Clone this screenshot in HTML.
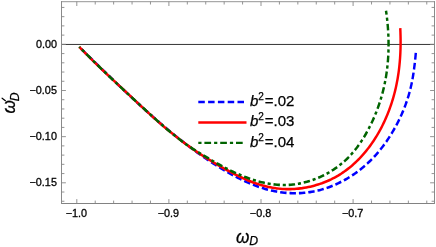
<!DOCTYPE html>
<html><head><meta charset="utf-8"><style>
html,body{margin:0;padding:0;background:#fff;}
svg{display:block;font-family:"Liberation Sans",sans-serif;}
</style></head><body>
<svg width="436" height="247" viewBox="0 0 436 247">
<defs><filter id="gr" x="-5%" y="-5%" width="110%" height="110%" color-interpolation-filters="sRGB"><feColorMatrix type="saturate" values="0"/></filter></defs>
<rect width="436" height="247" fill="#fff"/>
<line x1="61.5" y1="44.45" x2="434.5" y2="44.45" stroke="#000" stroke-width="0.8"/>
<g fill="none" stroke-width="2.45" stroke-linecap="butt" stroke-linejoin="round" transform="scale(1,1.05)">
<path d="M415.82,50.46 L415.64,52.32 L415.45,54.19 L415.25,56.05 L415.04,57.92 L414.82,59.79 L414.60,61.65 L414.36,63.51 L414.11,65.38 L413.84,67.24 L413.56,69.09 L413.27,70.95 L412.95,72.80 L412.62,74.64 L412.27,76.49 L411.89,78.32 L411.50,80.15 L411.07,81.98 L410.63,83.80 L410.16,85.61 L409.66,87.42 L409.14,89.22 L408.59,91.01 L408.02,92.79 L407.43,94.57 L406.81,96.34 L406.16,98.10 L405.50,99.86 L404.80,101.61 L404.09,103.35 L403.35,105.08 L402.59,106.80 L401.81,108.51 L401.01,110.22 L400.18,111.92 L399.34,113.61 L398.47,115.29 L397.58,116.96 L396.67,118.63 L395.75,120.28 L394.80,121.93 L393.83,123.56 L392.84,125.18 L391.83,126.80 L390.79,128.40 L389.74,129.99 L388.67,131.56 L387.58,133.12 L386.46,134.67 L385.33,136.20 L384.17,137.72 L383.00,139.23 L381.80,140.71 L380.58,142.18 L379.34,143.64 L378.08,145.07 L376.80,146.49 L375.50,147.89 L374.17,149.27 L372.83,150.63 L371.46,151.97 L370.07,153.28 L368.66,154.58 L367.23,155.85 L365.78,157.11 L364.30,158.34 L362.81,159.54 L361.29,160.72 L359.75,161.88 L358.19,163.01 L356.61,164.12 L355.01,165.21 L353.39,166.27 L351.76,167.30 L350.10,168.31 L348.42,169.29 L346.73,170.25 L345.02,171.19 L343.29,172.09 L341.55,172.97 L339.79,173.82 L338.02,174.64 L336.23,175.43 L334.42,176.19 L332.61,176.92 L330.78,177.61 L328.93,178.27 L327.08,178.90 L325.21,179.50 L323.33,180.06 L321.44,180.59 L319.54,181.08 L317.63,181.53 L315.70,181.94 L313.77,182.32 L311.84,182.66 L309.89,182.96 L307.94,183.22 L305.99,183.44 L304.02,183.63 L302.06,183.78 L300.09,183.90 L298.12,183.97 L296.15,184.02 L294.18,184.02 L292.21,183.99 L290.25,183.92 L288.28,183.82 L286.32,183.68 L284.36,183.51 L282.41,183.30 L280.46,183.05 L278.52,182.77 L276.59,182.46 L274.67,182.11 L272.75,181.73 L270.85,181.32 L268.95,180.88 L267.06,180.40 L265.18,179.90 L263.30,179.36 L261.44,178.80 L259.58,178.21 L257.73,177.60 L255.89,176.96 L254.06,176.29 L252.23,175.60 L250.41,174.89 L248.60,174.15 L246.80,173.40 L245.01,172.62 L243.22,171.83 L241.44,171.01 L239.67,170.18 L237.91,169.33 L236.15,168.46 L234.40,167.58 L232.66,166.68 L230.93,165.77 L229.20,164.85 L227.48,163.91 L225.77,162.97 L224.07,162.01 L222.37,161.05 L220.68,160.07 L219.00,159.09 L217.32,158.10 L215.66,157.10 L213.99,156.09 L212.34,155.07 L210.69,154.05 L209.05,153.02 L207.42,151.98 L205.79,150.93 L204.16,149.87 L202.55,148.81 L200.94,147.74 L199.33,146.67 L197.73,145.58 L196.14,144.49 L194.55,143.39 L192.97,142.29 L191.39,141.18 L189.82,140.06 L188.26,138.94 L186.70,137.81 L185.14,136.68 L183.59,135.53 L182.04,134.39 L180.50,133.24 L178.96,132.08 L177.43,130.91 L175.90,129.74 L174.38,128.57 L172.86,127.39 L171.34,126.21 L169.83,125.02 L168.32,123.82 L166.81,122.62 L165.31,121.42 L163.82,120.21 L162.32,119.00 L160.83,117.79 L159.34,116.57 L157.86,115.34 L156.38,114.12 L154.90,112.88 L153.42,111.65 L151.95,110.41 L150.48,109.17 L149.01,107.92 L147.54,106.68 L146.08,105.42 L144.62,104.17 L143.16,102.91 L141.70,101.65 L140.25,100.39 L138.80,99.13 L137.35,97.86 L135.90,96.59 L134.45,95.31 L133.01,94.04 L131.57,92.76 L130.13,91.48 L128.69,90.20 L127.26,88.92 L125.82,87.63 L124.39,86.34 L122.96,85.05 L121.53,83.76 L120.10,82.47 L118.68,81.18 L117.25,79.88 L115.83,78.59 L114.41,77.29 L112.99,75.99 L111.57,74.69 L110.15,73.39 L108.74,72.09 L107.32,70.78 L105.91,69.48 L104.49,68.18 L103.08,66.87 L101.67,65.57 L100.26,64.26 L98.85,62.96 L97.44,61.65 L96.04,60.35 L94.63,59.04 L93.23,57.73 L91.82,56.43 L90.42,55.12 L89.01,53.82 L87.61,52.51 L86.21,51.21 L84.80,49.90 L83.40,48.60 L82.00,47.30 L80.60,46.00 L79.20,44.70" stroke="#0000ff" stroke-dasharray="6.4 3.0"/>
<path d="M79.26,44.61 L80.65,45.99 L82.03,47.36 L83.43,48.73 L84.82,50.09 L86.23,51.45 L87.64,52.80 L89.05,54.15 L90.46,55.50 L91.88,56.84 L93.31,58.17 L94.74,59.51 L96.17,60.83 L97.60,62.16 L99.04,63.48 L100.48,64.80 L101.93,66.12 L103.38,67.43 L104.83,68.74 L106.28,70.05 L107.73,71.36 L109.19,72.66 L110.64,73.97 L112.10,75.27 L113.56,76.57 L115.02,77.87 L116.49,79.17 L117.95,80.47 L119.41,81.77 L120.88,83.06 L122.34,84.36 L123.81,85.66 L125.27,86.96 L126.73,88.26 L128.20,89.56 L129.66,90.86 L131.12,92.17 L132.58,93.47 L134.04,94.77 L135.50,96.08 L136.96,97.38 L138.43,98.69 L139.89,99.99 L141.35,101.29 L142.82,102.59 L144.29,103.89 L145.76,105.18 L147.23,106.48 L148.71,107.76 L150.19,109.05 L151.67,110.33 L153.16,111.61 L154.65,112.88 L156.14,114.15 L157.65,115.41 L159.15,116.66 L160.66,117.91 L162.18,119.16 L163.70,120.40 L165.22,121.63 L166.75,122.85 L168.29,124.07 L169.83,125.28 L171.37,126.49 L172.92,127.69 L174.48,128.88 L176.05,130.06 L177.61,131.23 L179.19,132.40 L180.77,133.56 L182.36,134.70 L183.95,135.84 L185.55,136.98 L187.16,138.10 L188.77,139.21 L190.39,140.31 L192.02,141.40 L193.65,142.49 L195.29,143.56 L196.93,144.62 L198.59,145.68 L200.25,146.72 L201.91,147.76 L203.59,148.79 L205.27,149.81 L206.96,150.82 L208.65,151.82 L210.35,152.82 L212.06,153.81 L213.77,154.79 L215.49,155.76 L217.22,156.73 L218.96,157.69 L220.70,158.65 L222.44,159.59 L224.20,160.53 L225.96,161.47 L227.73,162.39 L229.50,163.30 L231.29,164.21 L233.08,165.10 L234.87,165.98 L236.68,166.84 L238.49,167.68 L240.31,168.51 L242.13,169.32 L243.97,170.11 L245.81,170.88 L247.65,171.63 L249.51,172.36 L251.37,173.06 L253.25,173.73 L255.13,174.38 L257.01,175.00 L258.91,175.59 L260.81,176.15 L262.72,176.67 L264.64,177.17 L266.57,177.63 L268.50,178.05 L270.45,178.44 L272.40,178.79 L274.36,179.10 L276.33,179.38 L278.31,179.61 L280.29,179.79 L282.29,179.94 L284.29,180.04 L286.29,180.11 L288.30,180.13 L290.31,180.11 L292.32,180.05 L294.33,179.96 L296.34,179.82 L298.34,179.64 L300.35,179.42 L302.35,179.17 L304.35,178.87 L306.33,178.54 L308.32,178.17 L310.29,177.76 L312.25,177.31 L314.20,176.82 L316.14,176.30 L318.07,175.74 L319.98,175.14 L321.88,174.51 L323.76,173.84 L325.62,173.14 L327.47,172.40 L329.29,171.62 L331.10,170.81 L332.88,169.96 L334.64,169.08 L336.37,168.17 L338.09,167.22 L339.77,166.24 L341.44,165.23 L343.08,164.18 L344.70,163.11 L346.30,162.00 L347.87,160.86 L349.42,159.70 L350.95,158.51 L352.45,157.28 L353.93,156.04 L355.39,154.76 L356.82,153.46 L358.23,152.13 L359.62,150.78 L360.99,149.41 L362.33,148.01 L363.64,146.59 L364.94,145.14 L366.21,143.68 L367.45,142.19 L368.68,140.69 L369.88,139.16 L371.05,137.61 L372.21,136.05 L373.33,134.47 L374.44,132.87 L375.52,131.25 L376.58,129.62 L377.62,127.97 L378.63,126.31 L379.62,124.63 L380.58,122.94 L381.52,121.23 L382.44,119.52 L383.33,117.79 L384.20,116.05 L385.05,114.30 L385.87,112.54 L386.67,110.77 L387.45,108.99 L388.20,107.21 L388.93,105.42 L389.63,103.62 L390.31,101.81 L390.97,100.00 L391.60,98.18 L392.21,96.36 L392.80,94.53 L393.36,92.71 L393.90,90.88 L394.41,89.04 L394.90,87.20 L395.37,85.36 L395.82,83.52 L396.25,81.67 L396.65,79.82 L397.03,77.96 L397.39,76.11 L397.73,74.25 L398.05,72.38 L398.35,70.52 L398.63,68.65 L398.89,66.77 L399.13,64.90 L399.35,63.02 L399.55,61.14 L399.74,59.25 L399.90,57.36 L400.05,55.47 L400.17,53.58 L400.29,51.68 L400.38,49.78 L400.46,47.88 L400.52,45.98 L400.56,44.07 L400.59,42.16 L400.60,40.25 L400.60,38.33 L400.58,36.41 L400.54,34.49 L400.49,32.57 L400.43,30.64 L400.35,28.71 L400.26,26.78" stroke="#ff0000"/>
<path d="M386.01,10.26 L386.30,12.14 L386.57,14.02 L386.82,15.91 L387.05,17.81 L387.27,19.70 L387.48,21.60 L387.66,23.50 L387.83,25.41 L387.98,27.32 L388.11,29.23 L388.23,31.14 L388.33,33.05 L388.41,34.97 L388.47,36.88 L388.52,38.80 L388.54,40.72 L388.55,42.63 L388.54,44.55 L388.51,46.47 L388.46,48.39 L388.39,50.31 L388.30,52.22 L388.19,54.14 L388.06,56.05 L387.91,57.96 L387.74,59.87 L387.55,61.78 L387.34,63.69 L387.11,65.59 L386.85,67.49 L386.58,69.39 L386.28,71.29 L385.97,73.18 L385.63,75.07 L385.26,76.95 L384.88,78.83 L384.47,80.70 L384.05,82.57 L383.59,84.44 L383.12,86.30 L382.62,88.15 L382.10,90.00 L381.56,91.84 L380.99,93.68 L380.41,95.51 L379.80,97.33 L379.17,99.15 L378.51,100.96 L377.84,102.76 L377.14,104.56 L376.42,106.35 L375.68,108.13 L374.91,109.90 L374.13,111.67 L373.33,113.42 L372.50,115.17 L371.65,116.91 L370.78,118.64 L369.89,120.36 L368.98,122.07 L368.05,123.77 L367.09,125.45 L366.11,127.13 L365.11,128.79 L364.08,130.43 L363.03,132.06 L361.95,133.68 L360.84,135.27 L359.71,136.85 L358.55,138.41 L357.37,139.94 L356.16,141.46 L354.91,142.95 L353.64,144.42 L352.34,145.87 L351.01,147.29 L349.65,148.69 L348.25,150.05 L346.83,151.40 L345.37,152.71 L343.88,153.99 L342.35,155.25 L340.80,156.47 L339.22,157.66 L337.60,158.82 L335.96,159.95 L334.30,161.04 L332.60,162.11 L330.88,163.13 L329.14,164.13 L327.38,165.08 L325.59,166.01 L323.79,166.89 L321.96,167.74 L320.12,168.56 L318.26,169.33 L316.38,170.07 L314.49,170.76 L312.59,171.42 L310.67,172.04 L308.74,172.62 L306.80,173.16 L304.85,173.65 L302.89,174.10 L300.92,174.51 L298.95,174.88 L296.97,175.20 L294.99,175.48 L293.00,175.71 L291.01,175.90 L289.02,176.04 L287.03,176.14 L285.05,176.19 L283.06,176.19 L281.07,176.14 L279.09,176.06 L277.11,175.93 L275.13,175.75 L273.16,175.54 L271.18,175.29 L269.22,175.00 L267.25,174.67 L265.29,174.30 L263.34,173.90 L261.38,173.47 L259.44,173.00 L257.50,172.50 L255.56,171.97 L253.63,171.41 L251.71,170.81 L249.80,170.20 L247.89,169.55 L245.99,168.88 L244.09,168.18 L242.21,167.46 L240.33,166.72 L238.46,165.95 L236.60,165.17 L234.75,164.36 L232.91,163.54 L231.08,162.70 L229.26,161.84 L227.45,160.97 L225.65,160.09 L223.86,159.19 L222.08,158.28 L220.31,157.36 L218.56,156.43 L216.81,155.49 L215.07,154.54 L213.34,153.58 L211.62,152.62 L209.89,151.66 L208.17,150.69 L206.46,149.71 L204.74,148.74 L203.02,147.76 L201.30,146.77 L199.59,145.78 L197.89,144.79 L196.18,143.78 L194.49,142.76 L192.81,141.73 L191.13,140.68 L189.47,139.62 L187.82,138.54 L186.18,137.44 L184.55,136.33 L182.94,135.20 L181.33,134.06 L179.73,132.90 L178.15,131.74 L176.57,130.56 L175.00,129.36 L173.44,128.16 L171.88,126.95 L170.33,125.73 L168.79,124.49 L167.26,123.25 L165.73,122.01 L164.21,120.75 L162.69,119.49 L161.17,118.23 L159.66,116.96 L158.16,115.68 L156.65,114.41 L155.15,113.12 L153.65,111.84 L152.16,110.56 L150.66,109.27 L149.17,107.99 L147.68,106.70 L146.18,105.41 L144.69,104.12 L143.21,102.83 L141.72,101.54 L140.23,100.25 L138.75,98.95 L137.27,97.66 L135.79,96.36 L134.31,95.07 L132.83,93.77 L131.35,92.47 L129.88,91.17 L128.40,89.87 L126.93,88.56 L125.46,87.26 L123.99,85.95 L122.52,84.64 L121.06,83.33 L119.59,82.02 L118.13,80.71 L116.67,79.40 L115.21,78.08 L113.75,76.77 L112.29,75.45 L110.84,74.13 L109.38,72.81 L107.93,71.48 L106.48,70.16 L105.03,68.83 L103.58,67.50 L102.14,66.17 L100.69,64.84 L99.25,63.51 L97.81,62.17 L96.37,60.84 L94.93,59.50 L93.49,58.16 L92.06,56.82 L90.63,55.47 L89.19,54.12 L87.76,52.78 L86.34,51.42 L84.91,50.07 L83.49,48.72 L82.06,47.36 L80.64,46.00 L79.22,44.64" stroke="#006400" stroke-dasharray="6.4 2.85 3.1 2.85" stroke-dashoffset="2.73"/>
</g>
<g stroke-linecap="square" stroke-width="1">
<line x1="61.5" y1="1.7000000000000002" x2="434.5" y2="1.7000000000000002" stroke="#969696"/>
<line x1="61.5" y1="203.5" x2="434.5" y2="203.5" stroke="#828282"/>
<line x1="61.5" y1="1.6" x2="61.5" y2="203.5" stroke="#8a8a8a"/>
<line x1="434.5" y1="1.6" x2="434.5" y2="203.5" stroke="#8a8a8a"/>
</g>
<g stroke="#888" stroke-width="0.9"><line x1="76.80" y1="203.5" x2="76.80" y2="199.1"/><line x1="76.80" y1="1.6" x2="76.80" y2="6.0"/><line x1="95.22" y1="203.5" x2="95.22" y2="200.6"/><line x1="95.22" y1="1.6" x2="95.22" y2="4.5"/><line x1="113.64" y1="203.5" x2="113.64" y2="200.6"/><line x1="113.64" y1="1.6" x2="113.64" y2="4.5"/><line x1="132.06" y1="203.5" x2="132.06" y2="200.6"/><line x1="132.06" y1="1.6" x2="132.06" y2="4.5"/><line x1="150.48" y1="203.5" x2="150.48" y2="200.6"/><line x1="150.48" y1="1.6" x2="150.48" y2="4.5"/><line x1="168.90" y1="203.5" x2="168.90" y2="199.1"/><line x1="168.90" y1="1.6" x2="168.90" y2="6.0"/><line x1="187.32" y1="203.5" x2="187.32" y2="200.6"/><line x1="187.32" y1="1.6" x2="187.32" y2="4.5"/><line x1="205.74" y1="203.5" x2="205.74" y2="200.6"/><line x1="205.74" y1="1.6" x2="205.74" y2="4.5"/><line x1="224.16" y1="203.5" x2="224.16" y2="200.6"/><line x1="224.16" y1="1.6" x2="224.16" y2="4.5"/><line x1="242.58" y1="203.5" x2="242.58" y2="200.6"/><line x1="242.58" y1="1.6" x2="242.58" y2="4.5"/><line x1="261.00" y1="203.5" x2="261.00" y2="199.1"/><line x1="261.00" y1="1.6" x2="261.00" y2="6.0"/><line x1="279.42" y1="203.5" x2="279.42" y2="200.6"/><line x1="279.42" y1="1.6" x2="279.42" y2="4.5"/><line x1="297.84" y1="203.5" x2="297.84" y2="200.6"/><line x1="297.84" y1="1.6" x2="297.84" y2="4.5"/><line x1="316.26" y1="203.5" x2="316.26" y2="200.6"/><line x1="316.26" y1="1.6" x2="316.26" y2="4.5"/><line x1="334.68" y1="203.5" x2="334.68" y2="200.6"/><line x1="334.68" y1="1.6" x2="334.68" y2="4.5"/><line x1="353.10" y1="203.5" x2="353.10" y2="199.1"/><line x1="353.10" y1="1.6" x2="353.10" y2="6.0"/><line x1="371.52" y1="203.5" x2="371.52" y2="200.6"/><line x1="371.52" y1="1.6" x2="371.52" y2="4.5"/><line x1="389.94" y1="203.5" x2="389.94" y2="200.6"/><line x1="389.94" y1="1.6" x2="389.94" y2="4.5"/><line x1="408.36" y1="203.5" x2="408.36" y2="200.6"/><line x1="408.36" y1="1.6" x2="408.36" y2="4.5"/><line x1="426.78" y1="203.5" x2="426.78" y2="200.6"/><line x1="426.78" y1="1.6" x2="426.78" y2="4.5"/><line x1="61.5" y1="7.43" x2="64.4" y2="7.43"/><line x1="434.5" y1="7.43" x2="431.6" y2="7.43"/><line x1="61.5" y1="16.66" x2="64.4" y2="16.66"/><line x1="434.5" y1="16.66" x2="431.6" y2="16.66"/><line x1="61.5" y1="25.89" x2="64.4" y2="25.89"/><line x1="434.5" y1="25.89" x2="431.6" y2="25.89"/><line x1="61.5" y1="35.12" x2="64.4" y2="35.12"/><line x1="434.5" y1="35.12" x2="431.6" y2="35.12"/><line x1="61.5" y1="44.35" x2="65.9" y2="44.35"/><line x1="434.5" y1="44.35" x2="430.1" y2="44.35"/><line x1="61.5" y1="53.58" x2="64.4" y2="53.58"/><line x1="434.5" y1="53.58" x2="431.6" y2="53.58"/><line x1="61.5" y1="62.81" x2="64.4" y2="62.81"/><line x1="434.5" y1="62.81" x2="431.6" y2="62.81"/><line x1="61.5" y1="72.04" x2="64.4" y2="72.04"/><line x1="434.5" y1="72.04" x2="431.6" y2="72.04"/><line x1="61.5" y1="81.27" x2="64.4" y2="81.27"/><line x1="434.5" y1="81.27" x2="431.6" y2="81.27"/><line x1="61.5" y1="90.50" x2="65.9" y2="90.50"/><line x1="434.5" y1="90.50" x2="430.1" y2="90.50"/><line x1="61.5" y1="99.73" x2="64.4" y2="99.73"/><line x1="434.5" y1="99.73" x2="431.6" y2="99.73"/><line x1="61.5" y1="108.96" x2="64.4" y2="108.96"/><line x1="434.5" y1="108.96" x2="431.6" y2="108.96"/><line x1="61.5" y1="118.19" x2="64.4" y2="118.19"/><line x1="434.5" y1="118.19" x2="431.6" y2="118.19"/><line x1="61.5" y1="127.42" x2="64.4" y2="127.42"/><line x1="434.5" y1="127.42" x2="431.6" y2="127.42"/><line x1="61.5" y1="136.65" x2="65.9" y2="136.65"/><line x1="434.5" y1="136.65" x2="430.1" y2="136.65"/><line x1="61.5" y1="145.88" x2="64.4" y2="145.88"/><line x1="434.5" y1="145.88" x2="431.6" y2="145.88"/><line x1="61.5" y1="155.11" x2="64.4" y2="155.11"/><line x1="434.5" y1="155.11" x2="431.6" y2="155.11"/><line x1="61.5" y1="164.34" x2="64.4" y2="164.34"/><line x1="434.5" y1="164.34" x2="431.6" y2="164.34"/><line x1="61.5" y1="173.57" x2="64.4" y2="173.57"/><line x1="434.5" y1="173.57" x2="431.6" y2="173.57"/><line x1="61.5" y1="182.80" x2="65.9" y2="182.80"/><line x1="434.5" y1="182.80" x2="430.1" y2="182.80"/><line x1="61.5" y1="192.03" x2="64.4" y2="192.03"/><line x1="434.5" y1="192.03" x2="431.6" y2="192.03"/><line x1="61.5" y1="201.26" x2="64.4" y2="201.26"/><line x1="434.5" y1="201.26" x2="431.6" y2="201.26"/></g>
<g font-size="10.8" fill="#000" stroke="#000" stroke-width="0.3" filter="url(#gr)"><text x="76.30" y="216.6" text-anchor="middle">−1.0</text><text x="168.40" y="216.6" text-anchor="middle">−0.9</text><text x="260.50" y="216.6" text-anchor="middle">−0.8</text><text x="352.60" y="216.6" text-anchor="middle">−0.7</text><text x="56.9" y="47.60" text-anchor="end">0.00</text><text x="56.9" y="93.75" text-anchor="end">−0.05</text><text x="56.9" y="139.90" text-anchor="end">−0.10</text><text x="56.9" y="186.05" text-anchor="end">−0.15</text></g>
<g fill="none" stroke-width="2.3">
<line x1="198.3" y1="102.0" x2="246" y2="102.0" stroke="#0000ff" stroke-dasharray="6.5 3.3"/>
<line x1="198.3" y1="122.5" x2="246.5" y2="122.5" stroke="#ff0000"/>
<line x1="198.3" y1="142.9" x2="245" y2="142.9" stroke="#006400" stroke-dasharray="3.2 2.9 6.7 3.0"/>
</g>
<g font-size="15" fill="#000" stroke="#000" stroke-width="0.25" filter="url(#gr)">
<text x="250" y="105.9"><tspan font-style="italic">b</tspan><tspan font-size="10" dy="-5.9">2</tspan><tspan dy="5.9" dx="0.8">=.02</tspan></text>
<text x="250" y="126.3"><tspan font-style="italic">b</tspan><tspan font-size="10" dy="-5.9">2</tspan><tspan dy="5.9" dx="0.8">=.03</tspan></text>
<text x="250" y="146.8"><tspan font-style="italic">b</tspan><tspan font-size="10" dy="-5.9">2</tspan><tspan dy="5.9" dx="0.8">=.04</tspan></text>
</g>
<g fill="#000" font-style="italic" stroke="#000" stroke-width="0.25" filter="url(#gr)">
<text transform="translate(236.0,242.6) scale(1,1.12)" font-size="17.2">ω</text>
<text x="249.3" y="245.2" font-size="12.2">D</text>
<text transform="translate(14.8,113.5) rotate(-90) scale(1,1.12)" font-size="17.2">ω</text>
<text transform="translate(19.3,101.3) rotate(-90)" font-size="12.2">D</text>
<line x1="5.4" y1="100.7" x2="2.1" y2="98.2" stroke="#000" stroke-width="1.2" stroke-linecap="round"/>
</g>
</svg>
</body></html>
